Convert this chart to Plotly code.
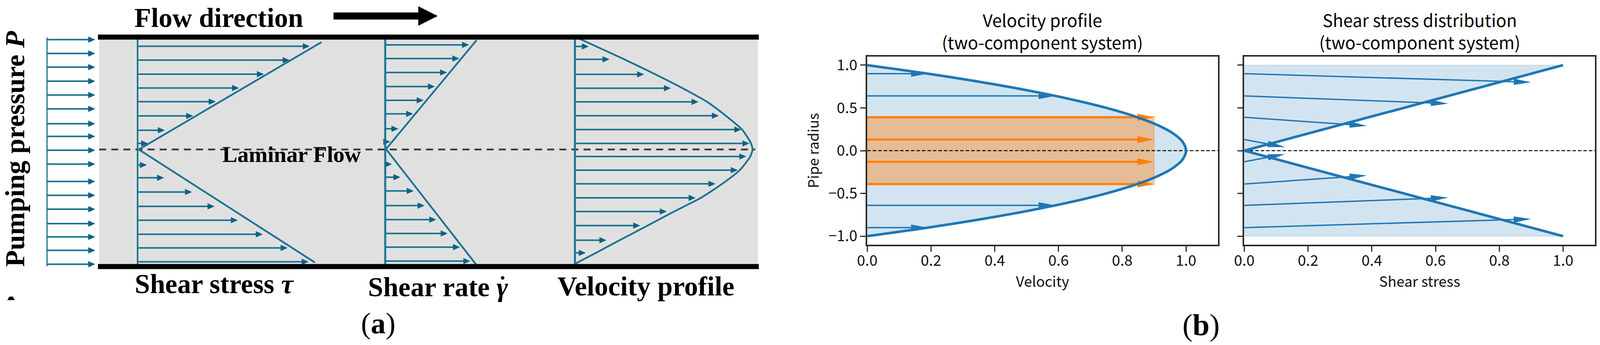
from __future__ import annotations

import math

import plotly.graph_objects as go

# panel (a) is a drawing, its values are read in picture pixels
gray_x = [255, 1950, 1950, 255]
gray_y = [100, 100, 677, 677]
wall_x = [252, 1952]
wall_top_y = 95
wall_bottom_y = 683
center_x = [255, 1943]
center_y = 383

flow_arrow_x = [858, 1126]
flow_arrow_y = 41

inlet_x = [121, 245]
inlet_line_y = [96, 682]
inlet_y = [101.5, 137, 172, 208, 243.5, 279, 317, 349.5, 385, 420.5, 465, 500.5, 536, 573, 607, 641.5, 677]

tau_x0 = 354
tau_y = [118.4, 153.9, 190, 225.5, 260.4, 297, 333.7, 367.5, 422.8, 455.5, 492, 528.8, 564.3, 600.3, 635.3, 670.8]
tau_end = [797, 745, 679, 615, 555, 497, 424, 381, 378, 422, 494, 552, 612, 676, 740, 794]
tau_wall_y = [89, 677]
tau_edge_x = [827, 357, 810]
tau_edge_y = [108, 383, 672.5]

rate_x0 = 991
rate_y = [115, 150, 185.7, 221.7, 257, 291.7, 330, 363.3, 420.7, 454, 489.3, 526.7, 562.7, 598.3, 633.3, 669]
rate_end = [1206.7, 1181.7, 1150, 1119, 1090, 1063, 1025, 1004, 1008.3, 1030, 1064.3, 1092.3, 1122.3, 1151.7, 1183.3, 1210]
rate_edge_x = [1226, 993, 1225]
rate_edge_y = [103, 382, 678]

vel_x0 = 1479
vel_y = [119, 152, 190.5, 226, 261, 296.5, 332, 367.5, 401, 436, 471, 507, 542, 578, 615.5, 648]
vel_end = [1515, 1568, 1657, 1726, 1797, 1849.5, 1907, 1928, 1920, 1898, 1840.5, 1789.5, 1715.5, 1647, 1560, 1507]
vel_edge_x = [1481, 1534, 1606, 1686, 1756, 1819, 1867, 1909, 1932, 1936, 1930, 1903, 1858, 1803, 1734, 1666, 1594, 1533, 1481]
vel_edge_y = [95, 119, 152, 190.5, 226, 261, 296.5, 332, 367.5, 383, 401, 436, 471, 507, 542, 578, 615.5, 648, 675]

clip_mark_x = [19, 24, 33, 38]
clip_mark_y = [769, 760, 760, 769]
gamma_dot_x = [1293]
gamma_dot_y = [712]

# panel (b)
radius = [-1.0, -0.9, -0.8, -0.7, -0.6, -0.5, -0.4, -0.3, -0.2, -0.1, 0.0, 0.1, 0.2, 0.3, 0.4, 0.5, 0.6, 0.7, 0.8, 0.9, 1.0]
velocity = [0.0, 0.19, 0.36, 0.51, 0.64, 0.75, 0.84, 0.91, 0.96, 0.99, 1.0, 0.99, 0.96, 0.91, 0.84, 0.75, 0.64, 0.51, 0.36, 0.19, 0.0]
shear = [1.0, 0.9, 0.8, 0.7, 0.6, 0.5, 0.4, 0.3, 0.2, 0.1, 0.0, 0.1, 0.2, 0.3, 0.4, 0.5, 0.6, 0.7, 0.8, 0.9, 1.0]

plug_radius = [-0.4, 0.4]
plug_velocity = 0.9

vel_blue_r = [0.9, 0.64, -0.64, -0.9]
vel_blue_end = [0.19, 0.59, 0.59, 0.19]
vel_orange_r = [0.39, 0.13, -0.13, -0.39]
vel_orange_end = [0.9, 0.9, 0.9, 0.9]

stress_r = [0.9, 0.64, 0.39, 0.13, -0.13, -0.39, -0.64, -0.9]
stress_end_x = [0.9, 0.64, 0.385, 0.128, 0.128, 0.385, 0.64, 0.9]
stress_end_r = [0.8, 0.55, 0.29, 0.04, -0.04, -0.29, -0.55, -0.8]

x_ticks = [0.0, 0.2, 0.4, 0.6, 0.8, 1.0]
y_ticks = [-1.0, -0.5, 0.0, 0.5, 1.0]

TEAL = "#1a7390"
TEAL_DARK = "#0c6285"
BLUE = "#1f77b4"
ORANGE = "#ff7f0e"
BLUE_FILL = "rgba(31,119,180,0.2)"
ORANGE_FILL = "rgba(255,127,14,0.4)"
SERIF = "Liberation Serif"
SANS = "Noto Sans CJK JP"

# pixels per data unit in panel (b), used to keep arrow heads undistorted
SX = 821
SY = 219


def head(x0, y0, x1, y1, length, half, sx=1.0, sy=1.0):
    dx = (x1 - x0) * sx
    dy = (y1 - y0) * sy
    size = math.hypot(dx, dy)
    ux, uy = dx / size, dy / size
    bx, by = x1 * sx - ux * length, y1 * sy - uy * length
    xs = [(bx - uy * half) / sx, x1, (bx + uy * half) / sx, (bx - uy * half) / sx, None]
    ys = [(by + ux * half) / sy, y1, (by - ux * half) / sy, (by + ux * half) / sy, None]
    # the shaft stops inside the head so the tip stays sharp
    neck_x = (x1 * sx - ux * length * 0.6) / sx
    neck_y = (y1 * sy - uy * length * 0.6) / sy
    return xs, ys, neck_x, neck_y


def add_arrows(fig, starts, ends, color, head_color, width, length, half, axes, sx=1.0, sy=1.0):
    line_x, line_y, head_x, head_y = [], [], [], []
    for (x0, y0), (x1, y1) in zip(starts, ends):
        xs, ys, neck_x, neck_y = head(x0, y0, x1, y1, length, half, sx, sy)
        line_x += [x0, neck_x, None]
        line_y += [y0, neck_y, None]
        head_x += xs
        head_y += ys
    fig.add_trace(go.Scatter(x=line_x, y=line_y, mode="lines", line=dict(color=color, width=width), **axes))
    fig.add_trace(go.Scatter(x=head_x, y=head_y, mode="lines", fill="toself", fillcolor=head_color, line=dict(width=0), **axes))


def add_line(fig, xs, ys, color, width, axes, dash=None):
    fig.add_trace(go.Scatter(x=xs, y=ys, mode="lines", line=dict(color=color, width=width, dash=dash), **axes))


fig = go.Figure()
AX_A = dict(xaxis="x3", yaxis="y3")
AX_L = dict(xaxis="x", yaxis="y")
AX_R = dict(xaxis="x2", yaxis="y2")

# panel (a)
fig.add_trace(go.Scatter(x=gray_x, y=gray_y, mode="lines", fill="toself", fillcolor="#e0e0e0", line=dict(width=0), **AX_A))
add_line(fig, center_x, [center_y, center_y], "#3a3a3a", 4.5, AX_A, dash="18px,13px")
add_arrows(fig, [(inlet_x[0], y) for y in inlet_y], [(inlet_x[1], y) for y in inlet_y], TEAL, TEAL_DARK, 4, 18, 8, AX_A)
add_line(fig, [inlet_x[0], inlet_x[0]], inlet_line_y, TEAL, 3, AX_A)

add_arrows(fig, [(tau_x0, y) for y in tau_y], list(zip(tau_end, tau_y)), TEAL, TEAL_DARK, 4, 18, 8, AX_A)
add_line(fig, [tau_x0, tau_x0], tau_wall_y, TEAL, 4, AX_A)
add_line(fig, tau_edge_x, tau_edge_y, TEAL, 4.5, AX_A)

add_arrows(fig, [(rate_x0, y) for y in rate_y], list(zip(rate_end, rate_y)), TEAL, TEAL_DARK, 4, 18, 8, AX_A)
add_line(fig, [rate_x0, rate_x0], tau_wall_y, TEAL, 5, AX_A)
add_line(fig, rate_edge_x, rate_edge_y, TEAL, 4.5, AX_A)

add_arrows(fig, [(vel_x0, y) for y in vel_y], list(zip(vel_end, vel_y)), TEAL, TEAL_DARK, 4, 18, 8, AX_A)
add_line(fig, [vel_x0, vel_x0], tau_wall_y, TEAL, 5, AX_A)
fig.add_trace(go.Scatter(x=vel_edge_x, y=vel_edge_y, mode="lines", line=dict(color=TEAL, width=4.5, shape="spline", smoothing=0.6), **AX_A))

add_line(fig, wall_x, [wall_top_y, wall_top_y], "black", 13, AX_A)
add_line(fig, wall_x, [wall_bottom_y, wall_bottom_y], "black", 13, AX_A)
add_arrows(fig, [(flow_arrow_x[0], flow_arrow_y)], [(flow_arrow_x[1], flow_arrow_y)], "black", "black", 18, 50, 25, AX_A)
fig.add_trace(go.Scatter(x=clip_mark_x, y=clip_mark_y, mode="lines", fill="toself", fillcolor="black", line=dict(width=0), **AX_A))
fig.add_trace(go.Scatter(x=gamma_dot_x, y=gamma_dot_y, mode="markers", marker=dict(color="black", size=9), **AX_A))

# panel (b), velocity
fig.add_trace(go.Scatter(x=velocity, y=radius, mode="lines", fill="tozerox", fillcolor=BLUE_FILL, line=dict(width=0, shape="spline"), **AX_L))
fig.add_trace(go.Scatter(
    x=[0, plug_velocity, plug_velocity, 0, 0], y=[plug_radius[0], plug_radius[0], plug_radius[1], plug_radius[1], plug_radius[0]],
    mode="lines", fill="toself", fillcolor=ORANGE_FILL, line=dict(width=2, color=ORANGE_FILL), **AX_L,
))
add_line(fig, [0, 1.1], [0, 0], "black", 2.5, AX_L, dash="9px,5px")
add_arrows(fig, [(0, r) for r in vel_blue_r], list(zip(vel_blue_end, vel_blue_r)), BLUE, BLUE, 3.5, 43, 8, AX_L, SX, SY)
add_arrows(fig, [(0, r) for r in vel_orange_r], list(zip(vel_orange_end, vel_orange_r)), ORANGE, ORANGE, 5.5, 43, 9, AX_L, SX, SY)
fig.add_trace(go.Scatter(x=velocity, y=radius, mode="lines", line=dict(color=BLUE, width=6.5, shape="spline"), **AX_L))

# panel (b), shear stress
fig.add_trace(go.Scatter(x=shear, y=radius, mode="lines", fill="tozerox", fillcolor=BLUE_FILL, line=dict(width=0), **AX_R))
add_line(fig, [0, shear[-1]], [radius[-1], radius[-1]], BLUE_FILL, 2, AX_R)
add_line(fig, [0, shear[0]], [radius[0], radius[0]], BLUE_FILL, 2, AX_R)
add_line(fig, [0, 1.1], [0, 0], "black", 2.5, AX_R, dash="9px,5px")
add_arrows(fig, [(0, r) for r in stress_r], list(zip(stress_end_x, stress_end_r)), BLUE, BLUE, 3.5, 45, 8, AX_R, SX, SY)
add_line(fig, shear, radius, BLUE, 6.5, AX_R)


def label(text, x, y, size, family=SERIF, angle=0):
    return dict(
        text=text, x=x, y=y, xref="x3", yref="y3", showarrow=False, xanchor="center", yanchor="middle",
        textangle=angle, font=dict(family=family, size=size, color="black"),
    )


fig.update_layout(
    template="none",
    height=884,
    autosize=True,
    showlegend=False,
    margin=dict(l=0, r=0, t=0, b=0),
    paper_bgcolor="white",
    plot_bgcolor="rgba(0,0,0,0)",
    font=dict(family=SANS, color="#111111"),
    xaxis3=dict(domain=[0, 1], range=[0, 4116], visible=False, fixedrange=True),
    yaxis3=dict(domain=[0, 1], range=[884, 0], visible=False, fixedrange=True),
    annotations=[
        label("<b>Flow direction</b>", 563, 45, 70),
        label("<b>Pumping pressure <i>P</i></b>", 38, 381, 70, angle=-90),
        label("<b>Shear stress <i>τ</i></b>", 552, 727, 70),
        label("<b>Shear rate <i>γ</i></b>", 1127, 735, 70),
        label("<b>Velocity profile</b>", 1662, 733, 70),
        label("<b>Laminar Flow</b>", 750, 395, 58),
        label("(<b>a</b>)", 973, 828, 76),
        label("(<b>b</b>)", 3090, 832, 78),
        label("Velocity profile<br>(two-component system)", 2682, 78, 44, family=SANS),
        label("Shear stress distribution<br>(two-component system)", 3652, 78, 44, family=SANS),
    ],
)

axis_style = dict(
    showline=True, mirror=True, linecolor="#2a2a2a", linewidth=3.5, ticks="outside", ticklen=14, tickwidth=3,
    tickcolor="#2a2a2a", showgrid=False, zeroline=False, automargin=False, tickfont=dict(family=SANS, size=38, color="#111111"),
    title_font=dict(family=SANS, size=37, color="#111111"),
)
y_domain = [(884 - 627) / 884, (884 - 145) / 884]
fig.update_layout(
    xaxis=dict(domain=[2231 / 4116, 3133 / 4116], range=[0, 1.1], tickvals=x_ticks, ticktext=[f"{v:.1f}" for v in x_ticks], ticklabelstandoff=-9, title_text="Velocity", title_standoff=10, anchor="y", **axis_style),
    yaxis=dict(domain=y_domain, range=[-1.1, 1.1], tickvals=y_ticks, ticktext=[f"{v:.1f}".replace("-", "−") for v in y_ticks], title_text="Pipe radius", title_standoff=14, anchor="x", **axis_style),
    xaxis2=dict(domain=[3201 / 4116, 4103 / 4116], range=[0, 1.1], tickvals=x_ticks, ticktext=[f"{v:.1f}" for v in x_ticks], ticklabelstandoff=-9, title_text="Shear stress", title_standoff=10, anchor="y2", **axis_style),
    yaxis2=dict(domain=y_domain, range=[-1.1, 1.1], tickvals=y_ticks, showticklabels=False, anchor="x2", **axis_style),
)

fig.write_html(
    "out.html",
    config={"displayModeBar": False},
    post_script="document.body.style.margin='0';window.dispatchEvent(new Event('resize'));",
)
